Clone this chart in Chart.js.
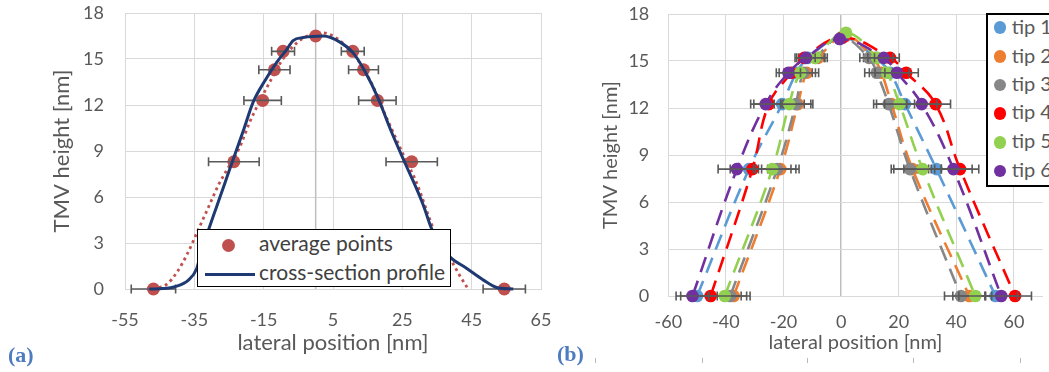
<!DOCTYPE html>
<html>
<head>
<meta charset="utf-8">
<script src="https://cdn.jsdelivr.net/npm/chart.js@4.4.1/dist/chart.umd.min.js"></script>
<style>
html,body{margin:0;padding:0;background:#fff;}
body{width:1049px;height:372px;overflow:hidden;position:relative;font-family:Lato,sans-serif;}
#ca{position:absolute;left:0;top:0;}
#cb{position:absolute;left:560px;top:0;}
.plabel{position:absolute;font-family:"Liberation Serif",serif;font-weight:bold;font-size:22px;line-height:22px;color:#4F7CC0;white-space:nowrap;}
.box{position:absolute;background:#fff;box-sizing:border-box;}
.txt{position:absolute;white-space:nowrap;font-family:Lato,sans-serif;}
.dot{position:absolute;border-radius:50%;}
.tk{position:absolute;width:1px;height:5px;background:#B8B8B8;top:358px;}
</style>
</head>
<body>
<canvas id="ca" width="560" height="372"></canvas>
<canvas id="cb" width="489" height="372"></canvas>

<div class="plabel" style="left:8px;top:344px;">(a)</div>
<div class="plabel" style="left:557px;top:343px;">(b)</div>

<div class="tk" style="left:595px"></div>
<div class="tk" style="left:702px"></div>
<div class="tk" style="left:807px"></div>
<div class="tk" style="left:913px"></div>
<div class="tk" style="left:1020px"></div>

<div id="legA" class="box" style="left:197px;top:229px;width:254px;height:58px;border:1px solid #000;"></div>
<div id="legB" class="box" style="left:986px;top:13px;width:80px;height:174px;border:2px solid #000;"></div>

<script>
// ---------- tick labels ----------
const yTicks = [0, 3, 6, 9, 12, 15, 18];
const xTicksA = [-55, -35, -15, 5, 25, 45, 65];
const xTicksB = [-60, -40, -20, 0, 20, 40, 60];

// ---------- panel (a) ----------
const avgX   = [-46.8, -23.6, -15.3, -11.9, -9.4, 0.0, 10.7, 13.8, 17.8, 27.7, 54.4];
const avgY   = [0, 8.3, 12.3, 14.3, 15.5, 16.5, 15.5, 14.3, 12.3, 8.3, 0];
const avgErr = [6.4, 7.3, 5.4, 4.5, 3.3, 0, 3.3, 4.3, 5.4, 7.4, 6.1];

const profileX = [-48, -44, -40.6, -36.7, -34.3, -32.9, -31, -28.6, -26.2, -24.2, -22.3, -20.9, -18, -14.6, -11.2, -8.4, -6.5, -3.6, 2.2, 7, 10.8, 14.2, 18.1, 21.4, 25.8, 28.6, 31, 33.5, 35.8, 38.7, 43.6, 48.4, 52.2, 57];
const profileY = [0, 0.03, 0.15, 0.58, 1.34, 2.53, 3.8, 5.35, 6.9, 8.2, 9.4, 10.3, 12.2, 13.6, 14.8, 15.6, 16.2, 16.4, 16.5, 16.1, 15.4, 14.2, 12.4, 10.5, 8.2, 6.8, 5.5, 3.9, 2.9, 2.1, 1.34, 0.58, 0.1, 0];

const trendX = [-47, -43, -40, -37, -34, -31, -28, -25, -22, -19, -16, -13, -10, -7, -4, -1, 2, 5, 8, 11, 14, 17, 20, 23, 26, 28.6, 30.5, 32.5, 34.2, 36.5, 39, 41.5, 44];
const trendY = [0, 0.3, 1.1, 2.3, 3.8, 5.3, 6.8, 8.0, 9.2, 10.9, 12.3, 13.6, 14.8, 15.7, 16.3, 16.6, 16.7, 16.5, 16.0, 15.3, 14.3, 13.0, 11.4, 9.9, 8.4, 7.2, 6.1, 4.8, 3.8, 2.8, 1.9, 0.9, 0];

// ---------- panel (b) ----------
const tipNames  = ['tip 1', 'tip 2', 'tip 3', 'tip 4', 'tip 5', 'tip 6'];
const tipColors = ['#5B9BD5', '#ED7D31', '#878787', '#FF0000', '#92D050', '#7030A0'];
const rowY    = [0, 8.1, 12.25, 14.25, 15.2, 16.5, 15.2, 14.25, 12.25, 8.1, 0];
const tipTopY = [16.5, 16.6, 16.5, 16.5, 16.8, 16.4];
const tip1X = [-50.0, -32.0, -20.5, -15.5, -11.5, 0.5, 12.0, 17.0, 22.2, 33.1, 53.6];
const tip2X = [-37.3, -21.1, -15.0, -12.0, -8.0, 1.5, 11.0, 14.0, 17.5, 24.8, 44.5];
const tip3X = [-38.5, -22.2, -15.7, -13.1, -8.8, 0.0, 9.7, 12.4, 16.5, 23.9, 41.6];
const tip4X = [-45.3, -30.8, -25.1, -17.3, -12.8, 0.5, 17.0, 22.6, 32.8, 41.3, 60.4];
const tip5X = [-40.4, -23.9, -18.0, -14.2, -9.1, 1.7, 12.5, 16.0, 20.3, 28.3, 46.6];
const tip6X = [-51.6, -36.2, -26.2, -18.3, -12.2, -0.5, 14.8, 19.4, 28.0, 39.0, 55.6];
const tipErr = [5.7, 6.5, 5.2, 4.2, 3.2, 0, 3.2, 4.2, 5.2, 6.5, 5.7];

// ---------- helpers ----------
const pts = (xs, ys) => xs.map((x, i) => ({x: x, y: ys[i]}));
const TICK_COLOR = '#595959';
const GRID = '#D9D9D9';
const ZERO = '#BFBFBF';

const errorBarPlugin = {
  id: 'errorBars',
  afterDatasetDraw(chart, args) {
    const ds = chart.data.datasets[args.index];
    if (!ds.xErr) return;
    const ctx = chart.ctx, xs = chart.scales.x, ys = chart.scales.y;
    ctx.save();
    ctx.strokeStyle = '#595959';
    ctx.lineWidth = 1.6;
    ds.data.forEach((p, i) => {
      const e = ds.xErr[i];
      if (!e) return;
      const y = ys.getPixelForValue(p.y);
      const x1 = xs.getPixelForValue(p.x - e);
      const x2 = xs.getPixelForValue(p.x + e);
      ctx.beginPath();
      ctx.moveTo(x1, y); ctx.lineTo(x2, y);
      ctx.moveTo(x1, y - 4.5); ctx.lineTo(x1, y + 4.5);
      ctx.moveTo(x2, y - 4.5); ctx.lineTo(x2, y + 4.5);
      ctx.stroke();
    });
    ctx.restore();
  }
};

const zeroLinePlugin = {
  id: 'zeroLine',
  beforeDatasetsDraw(chart, args, opts) {
    if (!opts || !opts.show) return;
    const ctx = chart.ctx, xs = chart.scales.x, a = chart.chartArea;
    const x = xs.getPixelForValue(0);
    ctx.save();
    ctx.strokeStyle = ZERO;
    ctx.lineWidth = 1.5;
    ctx.beginPath();
    ctx.moveTo(x, a.top); ctx.lineTo(x, a.bottom);
    ctx.stroke();
    ctx.restore();
  }
};

function makeScales(o) {
  const noPad = s => { s.paddingTop = 0; s.paddingBottom = 0; s.paddingLeft = 0; s.paddingRight = 0; };
  return {
    x: {
      type: 'linear', min: o.xmin, max: o.xmax,
      afterBuildTicks: s => { s.ticks = o.xticks.map(v => ({value: v})); },
      afterFit: s => { s.height = o.xh; noPad(s); },
      grid: {
        color: c => (o.zeroGrid && c.tick && c.tick.value === 0) ? ZERO : GRID,
        lineWidth: c => (o.zeroGrid && c.tick && c.tick.value === 0) ? 1.5 : 1,
        drawTicks: false
      },
      border: {color: GRID, width: 1},
      ticks: {color: TICK_COLOR, font: {family: 'Lato', size: 18}, padding: o.xpad, maxRotation: 0, autoSkip: false},
      title: {display: true, text: 'lateral position [nm]', color: TICK_COLOR,
              font: {family: 'Lato', size: o.tsize}, padding: {top: 0, bottom: o.xtpad}}
    },
    y: {
      type: 'linear', min: 0, max: 18,
      afterBuildTicks: s => { s.ticks = yTicks.map(v => ({value: v})); },
      afterFit: s => { s.width = o.yw; noPad(s); },
      grid: {color: GRID, lineWidth: 1, drawTicks: false},
      border: {color: GRID, width: 1},
      ticks: {color: TICK_COLOR, font: {family: 'Lato', size: 18}, padding: o.ypad},
      title: {display: true, text: 'TMV height [nm]', color: TICK_COLOR,
              font: {family: 'Lato', size: o.tsize}, padding: {top: o.ytpad, bottom: 0}}
    }
  };
}

// ---------- chart (a) ----------
new Chart(document.getElementById('ca'), {
  type: 'scatter',
  data: {
    datasets: [
      {label: 'cross-section profile', data: pts(profileX, profileY), showLine: true,
       borderColor: '#1F3A73', borderWidth: 3, pointRadius: 0, cubicInterpolationMode: 'monotone',
       order: 0, clip: false},
      {label: 'trend', data: pts(trendX, trendY), showLine: true,
       borderColor: '#C0504D', borderWidth: 2.8, borderDash: [2.8, 3.6], pointRadius: 0,
       cubicInterpolationMode: 'monotone', order: 1, clip: false},
      {label: 'average points', data: pts(avgX, avgY), showLine: false, xErr: avgErr,
       backgroundColor: '#C0504D', borderColor: '#C0504D', borderWidth: 0, pointRadius: 6.5,
       order: 2, clip: false}
    ]
  },
  options: {
    responsive: false, animation: false, events: [],
    layout: {padding: {left: 0, top: 13, right: 19, bottom: 0}},
    plugins: {legend: {display: false}, tooltip: {enabled: false}, zeroLine: {show: true}},
    scales: makeScales({xmin: -55, xmax: 65, xticks: xTicksA, xh: 83, yw: 125, xpad: 20, ypad: 21,
                        tsize: 22, xtpad: 15.5, ytpad: 48.4, zeroGrid: false})
  },
  plugins: [errorBarPlugin, zeroLinePlugin]
});

// ---------- chart (b) ----------
const tipXs = [tip1X, tip2X, tip3X, tip4X, tip5X, tip6X];
new Chart(document.getElementById('cb'), {
  type: 'scatter',
  data: {
    datasets: tipXs.map((xs, t) => ({
      label: tipNames[t],
      data: pts(xs, rowY.map((v, i) => i === 5 ? tipTopY[t] : v)),
      xErr: tipErr,
      showLine: true, borderColor: tipColors[t], borderWidth: 2.6, borderDash: [16, 9],
      tension: 0.4,
      backgroundColor: tipColors[t], pointBorderWidth: 0, pointRadius: 6.3,
      order: 5 - t, clip: false
    }))
  },
  options: {
    responsive: false, animation: false, events: [],
    layout: {padding: {left: 0, top: 14, right: 0.5, bottom: 0}},
    plugins: {legend: {display: false}, tooltip: {enabled: false}},
    scales: makeScales({xmin: -60, xmax: 70, xticks: xTicksB, xh: 76, yw: 108.3, xpad: 15, ypad: 19,
                        tsize: 20, xtpad: 17.3, ytpad: 39, zeroGrid: true})
  },
  plugins: [errorBarPlugin]
});

// ---------- legends (HTML overlays, real text) ----------
(function () {
  const body = document.body;
  function add(cls, style, text) {
    const d = document.createElement('div');
    d.className = cls;
    Object.assign(d.style, style);
    if (text) d.textContent = text;
    body.appendChild(d);
    return d;
  }
  // legend (a)
  add('dot', {left: (228.3 - 6.5) + 'px', top: (245 - 6.5) + 'px', width: '13px', height: '13px', background: '#C0504D'});
  add('txt', {left: '259px', top: (245 - 14.7) + 'px', fontSize: '21px', lineHeight: '25px', color: '#404040'}, 'average points');
  add('box', {left: '205px', top: '272.5px', width: '50px', height: '3px', background: '#1F3A73'});
  add('txt', {left: '259px', top: (274 - 14.7) + 'px', fontSize: '21px', lineHeight: '25px', color: '#404040'}, 'cross-section profile');
  // legend (b)
  const rows = [27.7, 56.7, 85, 113.3, 142.3, 171];
  rows.forEach((y, t) => {
    add('dot', {left: (1000 - 6.3) + 'px', top: (y - 6.3) + 'px', width: '12.6px', height: '12.6px', background: tipColors[t]});
    add('txt', {left: '1011.7px', top: (y - 14.2) + 'px', fontSize: '20px', lineHeight: '24px', color: '#595959'}, tipNames[t]);
  });
})();
</script>
</body>
</html>
